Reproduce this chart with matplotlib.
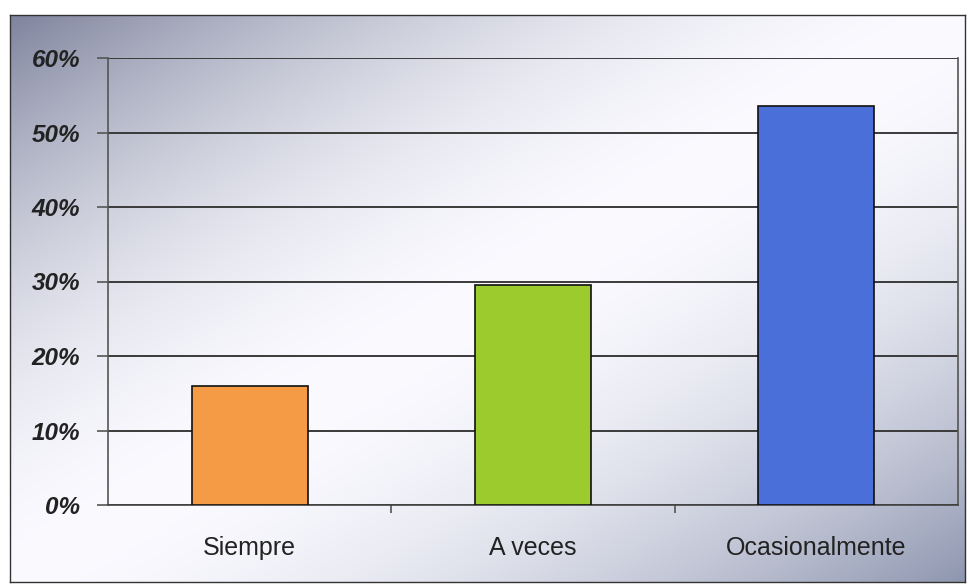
import numpy as np
import matplotlib
matplotlib.use("Agg")
import matplotlib.pyplot as plt
from matplotlib.ticker import FuncFormatter

categorias = ["Siempre", "A veces", "Ocasionalmente"]
valores = [16.0, 29.5, 53.5]
colores = ["#F59B45", "#9CCB2E", "#4B6FD8"]
y_ticks = [0, 10, 20, 30, 40, 50, 60]

fig = plt.figure(figsize=(9.69, 5.85), dpi=100)

# background panel with diagonal gradient
bg = fig.add_axes([10/969, 1-582/585, 955/969, 567/585])
ny, nx = 200, 300
xx, yy = np.meshgrid(np.linspace(0, 1, nx), np.linspace(0, 1, ny))
t = (xx + yy) / 2 - 0.5
w = np.clip(np.abs(t) * 2, 0, 1) ** 1.8
c_tl = np.array([0.50, 0.52, 0.62])
c_br = np.array([0.56, 0.59, 0.69])
white = np.array([0.98, 0.98, 1.0])
img = np.empty((ny, nx, 3))
for k in range(3):
    c = np.where(t < 0, c_tl[k], c_br[k])
    img[:, :, k] = white[k] * (1 - w) + c * w
bg.imshow(img, aspect="auto", extent=[0, 1, 0, 1], origin="upper")
bg.set_xticks([])
bg.set_yticks([])
for s in bg.spines.values():
    s.set_color("#333333")
    s.set_linewidth(1.0)

ax = fig.add_axes([108/969, 1-505/585, 850/969, 447/585])
ax.patch.set_alpha(0)
x = np.arange(len(categorias))
ax.bar(x, valores, width=0.41, color=colores, edgecolor="#111111", linewidth=1.2, zorder=3)

ax.set_xlim(-0.5, 2.5)
ax.set_ylim(0, 60)
ax.set_yticks(y_ticks)
ax.yaxis.set_major_formatter(FuncFormatter(lambda v, p: f"{v:.0f}%"))
ax.yaxis.grid(True, color="#3a3a3a", linewidth=1.4, zorder=0)
ax.set_axisbelow(True)
ax.tick_params(axis="y", length=8, width=1.2, color="#555555", pad=12)
for lab in ax.get_yticklabels():
    lab.set_fontfamily("Liberation Sans")
    lab.set_fontweight("bold")
    lab.set_fontstyle("italic")
    lab.set_fontsize(17.5)
    lab.set_color("#222222")

ax.set_xticks([0.5, 1.5], minor=True)
ax.set_xticks(x)
ax.set_xticklabels(categorias, fontsize=18, fontfamily="Liberation Sans", color="#222222")
ax.tick_params(axis="x", which="major", length=0, pad=22)
ax.tick_params(axis="x", which="minor", length=6, width=1.2, color="#555555")

for name, s in ax.spines.items():
    s.set_color("#555555")
    s.set_linewidth(1.2)
ax.spines["top"].set_visible(False)
ax.spines["bottom"].set_color("#444444")

fig.savefig("out.png", dpi=100, facecolor="white")
